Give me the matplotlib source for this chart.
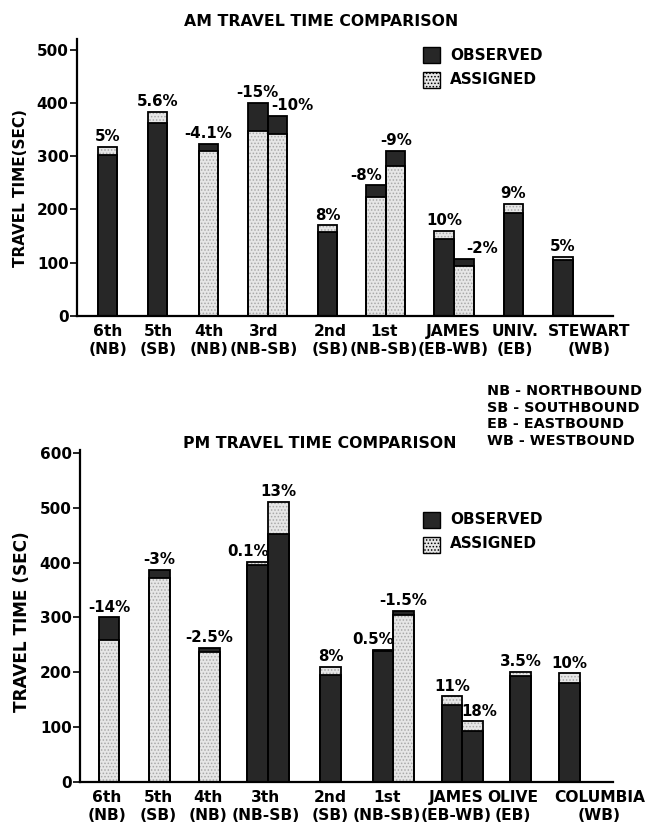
import matplotlib
matplotlib.use("Agg")
import matplotlib.pyplot as plt
from matplotlib.patches import Rectangle

plt.rcParams['font.family'] = ['DejaVu Sans']
plt.rcParams['font.weight'] = 'bold'
plt.rcParams['hatch.linewidth'] = 0.7

# ---------------- data ----------------
am_categories = ["6th\n(NB)", "5th\n(SB)", "4th\n(NB)", "3rd\n(NB-SB)", "2nd\n(SB)",
                 "1st\n(NB-SB)", "JAMES\n(EB-WB)", "UNIV.\n(EB)", "STEWART\n(WB)"]
am_bar_category = [0, 1, 2, 3, 3, 4, 5, 5, 6, 6, 7, 8]
am_observed = [302, 362, 323, 400, 375, 157, 245, 310, 145, 107, 193, 105]
am_assigned = [317, 383, 310, 348, 342, 170, 224, 281, 160, 93, 210, 111]
am_pct_labels = ["5%", "5.6%", "-4.1%", "-15%", "-10%", "8%", "-8%", "-9%",
                 "10%", "-2%", "9%", "5%"]
am_yticks = [0, 100, 200, 300, 400, 500]

pm_categories = ["6th\n(NB)", "5th\n(SB)", "4th\n(NB)", "3th\n(NB-SB)", "2nd\n(SB)",
                 "1st\n(NB-SB)", "JAMES\n(EB-WB)", "OLIVE\n(EB)", "COLUMBIA\n(WB)"]
pm_bar_category = [0, 1, 2, 3, 3, 4, 5, 5, 6, 6, 7, 8]
pm_observed = [300, 387, 245, 396, 452, 195, 238, 312, 140, 93, 194, 180]
pm_assigned = [259, 372, 237, 402, 511, 210, 241, 305, 156, 110, 201, 198]
pm_pct_labels = ["-14%", "-3%", "-2.5%", "0.1%", "13%", "8%", "0.5%", "-1.5%",
                 "11%", "18%", "3.5%", "10%"]
pm_yticks = [0, 100, 200, 300, 400, 500, 600]

key_lines = ["NB - NORTHBOUND", "SB - SOUTHBOUND", "EB - EASTBOUND", "WB - WESTBOUND"]

# ---------------- layout ----------------
W, H = 645, 825
DARK = '#272727'
LIGHT = '#e6e6e6'
HATCH_C = '#a8a8a8'


def fx(x):
    return x / W


def fy(y):
    return 1 - y / H


fig = plt.figure(figsize=(6.45, 8.25), dpi=100)


def panel(rect_px, ylim, centers, label_pos, width, cats, bar_cat, obs, ass, labels,
          yticks, label_dx, title, title_xy, ylabel, ylabel_xy, ylabel_size, legend_xy):
    l, t, r, b = rect_px
    ax = fig.add_axes([fx(l), fy(b), fx(r) - fx(l), fy(t) - fy(b)])
    ax.set_xlim(0, (r - l) / 50.0)
    ax.set_ylim(*ylim)
    n_in_cat = {}
    for c in bar_cat:
        n_in_cat[c] = n_in_cat.get(c, 0) + 1
    seen = {}
    for i, c in enumerate(bar_cat):
        k = seen.get(c, 0)
        seen[c] = k + 1
        n = n_in_cat[c]
        x = centers[c] + (k - (n - 1) / 2.0) * width
        o, a = obs[i], ass[i]
        segs = sorted([(o, 'obs'), (a, 'ass')], reverse=True)
        for val, kind in segs:
            if kind == 'obs':
                ax.bar(x, val, width, color=DARK, lw=0, zorder=2)
            else:
                ax.bar(x, val, width, color=LIGHT, hatch='.....', edgecolor=HATCH_C,
                       lw=0, zorder=2)
            ax.bar(x, val, width, fill=False, edgecolor='black', lw=1.3, zorder=3)
        top = max(o, a)
        ax.annotate(labels[i], (x, top), xytext=(label_dx[i] * 0.72, 2),
                    textcoords='offset points', ha='center', va='bottom',
                    fontsize=10.8, fontweight='bold')
    ax.set_xticks(label_pos)
    ax.set_xticklabels(cats, fontsize=11.2, fontweight='bold', linespacing=1.25)
    ax.tick_params(axis='x', length=0, pad=6)
    ax.set_yticks(yticks)
    ax.set_yticklabels([str(v) for v in yticks], fontsize=11, fontweight='bold')
    ax.tick_params(axis='y', length=5, width=1.2, pad=1, direction='out')
    for s in ['top', 'right']:
        ax.spines[s].set_visible(False)
    for s in ['left', 'bottom']:
        ax.spines[s].set_linewidth(1.6)
    fig.text(fx(title_xy[0]), fy(title_xy[1]), title, ha='center', va='center',
             fontsize=11.3, fontweight='bold')
    fig.text(fx(ylabel_xy[0]), fy(ylabel_xy[1]), ylabel, ha='center', va='center',
             rotation=90, fontsize=ylabel_size, fontweight='bold')
    lx, ly = legend_xy
    fig.add_artist(Rectangle((fx(lx), fy(ly + 8)), 17 / W, 16 / H, transform=fig.transFigure,
                             facecolor=DARK, edgecolor='black', lw=1))
    fig.add_artist(Rectangle((fx(lx), fy(ly + 33)), 17 / W, 16 / H, transform=fig.transFigure,
                             facecolor=LIGHT, edgecolor='black', lw=1, hatch='.....'))
    fig.text(fx(lx + 27), fy(ly), "OBSERVED", ha='left', va='center', fontsize=11,
             fontweight='bold')
    fig.text(fx(lx + 27), fy(ly + 24), "ASSIGNED", ha='left', va='center', fontsize=11,
             fontweight='bold')
    return ax


am_centers = [0.61, 1.61, 2.63, 3.81, 5.01, 6.18, 7.54, 8.73, 9.72]
am_label_pos = [0.62, 1.62, 2.64, 3.74, 5.06, 6.14, 7.52, 8.76, 10.24]
pm_centers = [0.58, 1.59, 2.59, 3.76, 5.01, 6.26, 7.64, 8.81, 9.79]
pm_label_pos = [0.54, 1.56, 2.56, 3.72, 5.0, 6.14, 7.52, 8.65, 10.39]
am_dx = [0, 0, 0, 0, 15, 0, -10, 0, 0, 18, 0, 0]
pm_dx = [0, 0, 0, -10, 0, 0, -10, 0, 0, 7, 0, 0]

panel((77, 39, 613, 316), (0, 520), am_centers, am_label_pos, 0.39, am_categories,
      am_bar_category, am_observed, am_assigned, am_pct_labels, am_yticks, am_dx,
      "AM TRAVEL TIME COMPARISON", (321, 21), "TRAVEL TIME(SEC)", (21, 188), 11, (423, 55))

panel((80, 450, 613, 781.7), (0, 606), pm_centers, pm_label_pos, 0.41, pm_categories,
      pm_bar_category, pm_observed, pm_assigned, pm_pct_labels, pm_yticks, pm_dx,
      "PM TRAVEL TIME COMPARISON", (320, 443), "TRAVEL TIME (SEC)", (22, 622), 12.2,
      (423, 520))

for i, line in enumerate(key_lines):
    fig.text(fx(487), fy(391 + 16.7 * i), line, ha='left', va='center', fontsize=10.4,
             fontweight='bold')

fig.savefig("out.png", dpi=100, facecolor='white')
